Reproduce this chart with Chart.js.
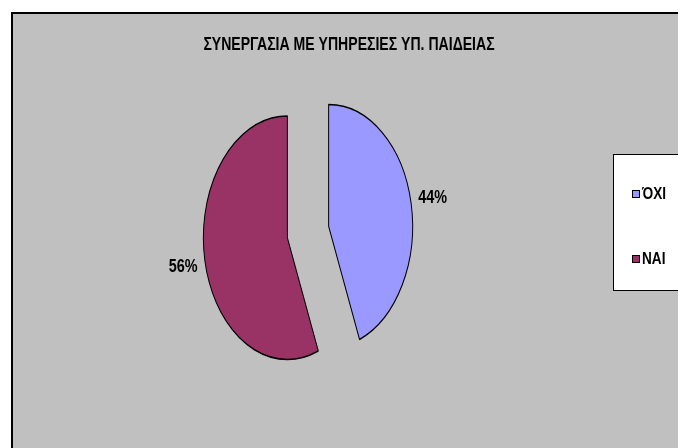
<!DOCTYPE html>
<html>
<head>
<meta charset="utf-8">
<script src="https://cdn.jsdelivr.net/npm/chart.js@4/dist/chart.umd.min.js"></script>
<style>
  html, body { margin: 0; padding: 0; background: #fff; }
  #wrap { position: relative; width: 678px; height: 448px; }
</style>
</head>
<body>
<div id="wrap"><canvas id="grafico" width="678" height="448"></canvas></div>
<script>
const titulo = 'ΣΥΝΕΡΓΑΣΙΑ ΜΕ ΥΠΗΡΕΣΙΕΣ ΥΠ. ΠΑΙΔΕΙΑΣ';
const categorias = ['ΌΧΙ', 'ΝΑΙ'];
const valores = [44, 56];
const colores = ['#9999FF', '#993366'];

const fuente = '"Liberation Sans", Arial, sans-serif';
const escalaY = 1.45;   // the pie is stretched vertically
const separacion = 21;  // how far each slice is pulled out

// narrow bold text: draw squeezed horizontally
function textoEstrecho(ctx, txt, x, y, tam, factor, align) {
  ctx.save();
  ctx.font = 'bold ' + tam + 'px ' + fuente;
  ctx.textAlign = align || 'center';
  ctx.textBaseline = 'middle';
  ctx.translate(x, y);
  ctx.scale(factor, 1);
  ctx.fillText(txt, 0, 0);
  ctx.restore();
}

// grey plot area with its frame and the title
const fondo = {
  id: 'fondo',
  beforeDraw(chart) {
    const ctx = chart.ctx;
    ctx.save();
    ctx.fillStyle = '#C0C0C0';
    ctx.fillRect(12, 13, 680, 450);
    ctx.strokeStyle = '#000';
    ctx.lineWidth = 2;
    ctx.strokeRect(12, 13, 680, 450);
    ctx.fillStyle = '#000';
    textoEstrecho(ctx, titulo, 349, 45, 19, 0.74);
    ctx.restore();
  }
};

// draw each arc pulled out along its mid angle, stretched vertically
const estirar = {
  id: 'estirar',
  beforeDatasetsDraw(chart) {
    const ctx = chart.ctx;
    chart.getDatasetMeta(0).data.forEach(arc => {
      const ang = (arc.startAngle + arc.endAngle) / 2;
      ctx.save();
      ctx.translate(arc.x + Math.cos(ang) * separacion, arc.y + Math.sin(ang) * separacion * escalaY);
      ctx.scale(1, escalaY);
      ctx.translate(-arc.x, -arc.y);
      arc.draw(ctx);
      ctx.restore();
    });
    return false;
  }
};

// percentage labels outside each slice, then the legend box
const etiquetas = {
  id: 'etiquetas',
  afterDraw(chart) {
    const ctx = chart.ctx;
    const meta = chart.getDatasetMeta(0);
    const total = valores.reduce((a, b) => a + b, 0);
    ctx.save();
    ctx.fillStyle = '#000';
    meta.data.forEach((arc, i) => {
      const ang = (arc.startAngle + arc.endAngle) / 2;
      const r = arc.outerRadius + separacion + 22;
      const x = arc.x + Math.cos(ang) * r;
      const y = arc.y + Math.sin(ang) * r * escalaY + 1;
      textoEstrecho(ctx, Math.round(valores[i] / total * 100) + '%', x, y, 18, 0.8);
    });

    ctx.fillStyle = '#fff';
    ctx.fillRect(613, 154, 80, 136);
    ctx.strokeStyle = '#000';
    ctx.lineWidth = 1;
    ctx.strokeRect(613.5, 154.5, 80, 136);
    categorias.forEach((c, i) => {
      const y = 194 + i * 65;
      ctx.fillStyle = colores[i];
      ctx.fillRect(632, y - 4, 8, 8);
      ctx.strokeStyle = '#000';
      ctx.strokeRect(632.5, y - 3.5, 7, 7);
      ctx.fillStyle = '#000';
      textoEstrecho(ctx, c, 642, y, 17, 0.8, 'left');
    });
    ctx.restore();
  }
};

new Chart(document.getElementById('grafico'), {
  type: 'pie',
  data: {
    labels: categorias,
    datasets: [{
      data: valores,
      backgroundColor: colores,
      borderColor: '#000',
      borderWidth: 1
    }]
  },
  options: {
    responsive: false,
    animation: false,
    radius: 84,
    layout: { padding: { left: 20, right: 82, top: 30, bottom: 14 } },
    plugins: {
      legend: { display: false },
      tooltip: { enabled: false }
    }
  },
  plugins: [fondo, estirar, etiquetas]
});
</script>
</body>
</html>
